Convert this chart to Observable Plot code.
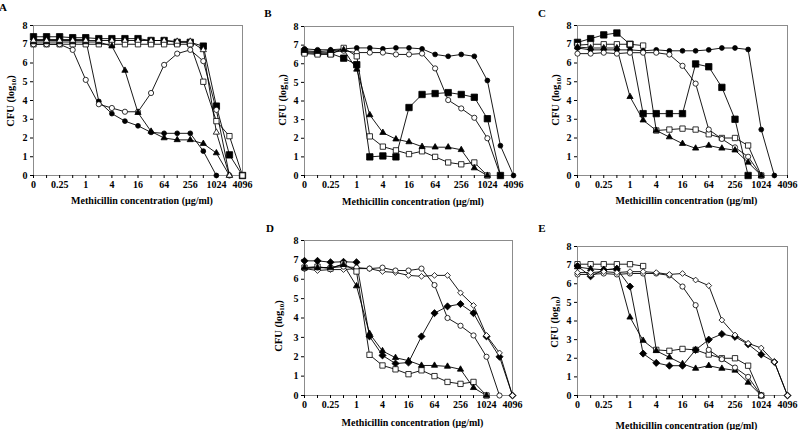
<!DOCTYPE html>
<html>
<head>
<meta charset="utf-8">
<script src="https://cdn.jsdelivr.net/npm/d3@7"></script>
<script src="https://cdn.jsdelivr.net/npm/@observablehq/plot@0.6"></script>
<style>
  body { margin: 0; background: #fff; }
  #chart { position: relative; width: 800px; height: 430px; overflow: hidden; background: #fff; }
  #chart svg { position: absolute; overflow: visible; }
</style>
</head>
<body>
<div id="chart"></div>
<script>
// ---------- data ----------
const concentrations = ["0","0.125","0.25","0.5","1","2","4","8","16","32","64","128","256","512","1024","2048","4096"];
const xTickLabels = ["0","0.25","1","4","16","64","256","1024","4096"];
const yTicks = [0,1,2,3,4,5,6,7,8];
const panelLetters = ["A","B","C","D","E"];
const xTitle = "Methicillin concentration (\u03bcg/ml)";

// Panel A
const aFilledSquare   = [7.4,7.4,7.4,7.35,7.35,7.3,7.3,7.3,7.3,7.2,7.2,7.1,7.1,6.9,3.7,1.1,0];
const aOpenSquare     = [7.0,7.0,7.0,7.0,7.0,7.0,7.0,7.0,7.0,7.0,7.0,7.0,7.0,5.0,2.9,2.1,0];
const aFilledCircle   = [7.25,7.25,7.25,7.25,7.25,3.95,3.3,2.9,2.65,2.3,2.25,2.25,2.25,1.3,0,null,null];
const aOpenCircle     = [7.0,7.0,7.0,6.7,5.1,3.8,3.6,3.4,3.4,4.4,5.9,6.5,6.7,6.1,3.5,0,null];
const aFilledTriangle = [7.12,7.12,7.12,7.12,7.12,7.12,6.9,5.6,3.35,2.35,2.0,1.9,1.9,1.7,1.2,0,null];
const aOpenTriangle   = [7.2,7.2,7.2,7.2,7.2,7.2,7.2,7.2,7.2,7.2,7.2,7.15,7.15,6.7,2.3,0,null];

// Panel B
const bFilledCircle   = [6.8,6.75,6.75,6.8,6.85,6.85,6.8,6.85,6.85,6.8,6.5,6.4,6.5,6.4,5.1,1.6,0];
const bOpenCircle     = [6.6,6.55,6.6,6.7,6.6,6.6,6.6,6.5,6.5,6.55,5.75,4.05,3.6,3.1,2.0,0,null];
const bFilledSquare   = [6.65,6.6,6.55,6.3,5.95,1.0,1.05,1.0,3.65,4.35,4.4,4.45,4.35,4.2,3.05,0,null];
const bOpenSquare     = [6.55,6.5,6.5,6.85,6.4,2.1,1.55,1.35,1.15,1.3,1.0,0.7,0.6,0.7,0,null,null];
const bFilledTriangle = [6.7,6.65,6.7,6.75,5.7,3.25,2.3,1.95,1.8,1.55,1.52,1.52,1.38,0.4,0,null,null];

// Panel C
const cFilledSquare   = [7.1,7.3,7.5,7.6,7.0,3.3,3.3,3.3,3.3,5.95,5.8,4.7,3.0,0,null,null,null];
const cOpenSquare     = [6.95,7.0,7.0,7.0,7.0,6.93,2.4,2.45,2.5,2.45,2.2,2.0,2.0,1.6,0,null,null];
const cFilledCircle   = [6.8,6.7,6.7,6.7,6.7,6.65,6.7,6.65,6.65,6.65,6.7,6.8,6.8,6.72,2.45,0,null];
const cOpenCircle     = [6.5,6.5,6.55,6.5,6.55,6.55,6.55,6.45,5.85,4.9,2.45,1.95,1.5,1.0,0,null,null];
const cFilledTriangle = [6.85,6.8,6.8,6.8,4.2,2.95,2.4,2.05,1.7,1.45,1.6,1.45,1.35,0.7,0,null,null];

// Panel D
const dFilledDiamond  = [6.95,6.95,6.88,6.9,6.88,3.05,2.07,1.65,1.7,3.05,4.25,4.6,4.72,4.25,3.05,2.0,0];
const dOpenDiamond    = [6.55,6.45,6.5,6.5,6.55,6.55,6.4,6.35,6.2,6.15,6.2,6.2,5.3,4.65,3.1,2.2,0];
const dOpenCircle     = [6.55,6.6,6.6,6.65,6.6,6.55,6.6,6.45,6.45,6.55,5.7,4.0,3.6,3.1,2.0,0,null];
const dOpenSquare     = [6.6,6.65,6.55,6.8,6.4,2.1,1.55,1.35,1.1,1.3,1.0,0.7,0.6,0.7,0,null,null];
const dFilledTriangle = [6.6,6.6,6.6,6.75,5.65,3.2,2.3,1.95,1.8,1.55,1.55,1.5,1.35,0.4,0,null,null];

// Panel E
const eOpenSquare     = [7.05,7.05,7.05,7.05,7.05,6.95,2.45,2.4,2.5,2.45,2.2,2.0,2.0,1.6,0,null,null];
const eFilledTriangle = [6.9,6.8,6.75,6.8,4.2,2.95,2.4,2.05,1.7,1.45,1.6,1.45,1.35,0.7,0,null,null];
const eFilledDiamond  = [6.95,6.4,6.75,6.8,5.85,2.25,1.75,1.6,1.6,2.45,3.0,3.3,3.15,2.75,2.2,1.8,0];
const eOpenCircle     = [6.5,6.5,6.55,6.5,6.55,6.55,6.55,6.45,5.85,4.85,2.45,1.95,1.5,1.0,0,null,null];
const eOpenDiamond    = [6.6,6.6,6.65,6.6,6.65,6.65,6.6,6.5,6.55,6.2,5.9,4.05,3.25,2.8,2.55,1.8,0];

// ---------- styles & layout ----------
const markerStyle = {
  filledSquare:   {symbol: "square",   fill: "black", r: 3.6},
  openSquare:     {symbol: "square",   fill: "white", r: 3.0},
  filledCircle:   {symbol: "circle",   fill: "black", r: 2.4},
  openCircle:     {symbol: "circle",   fill: "white", r: 2.6},
  filledTriangle: {symbol: "triangle", fill: "black", r: 2.3},
  openTriangle:   {symbol: "triangle", fill: "white", r: 2.3},
  filledDiamond:  {symbol: "diamond2", fill: "black", r: 3.2},
  openDiamond:    {symbol: "diamond2", fill: "white", r: 2.6}
};

const panels = [
  {letter: panelLetters[0], ox: 0,   oy: 0,   w: 265, l: 33,  r: 242, t: 25,  b: 175,
   titleY: 204, yTitleX: 14,  yTitleY: 101, letterX: 3,   letterY: 11,
   series: [["filledSquare", aFilledSquare], ["openSquare", aOpenSquare], ["filledCircle", aFilledCircle],
            ["openCircle", aOpenCircle], ["filledTriangle", aFilledTriangle], ["openTriangle", aOpenTriangle]]},
  {letter: panelLetters[1], ox: 265, oy: 0,   w: 265, l: 304, r: 513, t: 26,  b: 175,
   titleY: 205, yTitleX: 286, yTitleY: 100, letterX: 268, letterY: 17,
   series: [["filledCircle", bFilledCircle], ["openCircle", bOpenCircle], ["filledSquare", bFilledSquare],
            ["openSquare", bOpenSquare], ["filledTriangle", bFilledTriangle]]},
  {letter: panelLetters[2], ox: 530, oy: 0,   w: 270, l: 577, r: 787, t: 25,  b: 175,
   titleY: 204, yTitleX: 559, yTitleY: 100, letterX: 542, letterY: 17,
   series: [["filledSquare", cFilledSquare], ["openSquare", cOpenSquare], ["filledCircle", cFilledCircle],
            ["openCircle", cOpenCircle], ["filledTriangle", cFilledTriangle]]},
  {letter: panelLetters[3], ox: 265, oy: 215, w: 265, l: 304, r: 512, t: 240, b: 395,
   titleY: 426, yTitleX: 282, yTitleY: 326, letterX: 270, letterY: 232,
   series: [["filledDiamond", dFilledDiamond], ["openDiamond", dOpenDiamond], ["openCircle", dOpenCircle],
            ["openSquare", dOpenSquare], ["filledTriangle", dFilledTriangle]]},
  {letter: panelLetters[4], ox: 530, oy: 215, w: 270, l: 577, r: 787, t: 246, b: 395,
   titleY: 429, yTitleX: 558, yTitleY: 322, letterX: 542, letterY: 232,
   series: [["openSquare", eOpenSquare], ["filledTriangle", eFilledTriangle], ["filledDiamond", eFilledDiamond],
            ["openCircle", eOpenCircle], ["openDiamond", eOpenDiamond]]}
];

const H = 215;
const font = "'Liberation Serif', 'Times New Roman', Times, serif";
const chart = document.getElementById("chart");

for (const p of panels) {
  const rows = [];
  p.series.forEach(([name, values]) => {
    values.forEach((v, i) => { if (v != null) rows.push({series: name, i, conc: concentrations[i], v}); });
  });

  const lineMarks = Plot.line(rows, {x: "i", y: "v", z: "series", stroke: "black", strokeWidth: 0.9});
  const dotMarks = p.series.map(([name]) => {
    const s = markerStyle[name];
    return Plot.dot(rows.filter(d => d.series === name), {
      x: "i", y: "v", symbol: s.symbol, r: s.r, fill: s.fill, stroke: "black", strokeWidth: 0.8
    });
  });

  const svg = Plot.plot({
    width: p.w,
    height: H,
    marginLeft: p.l - p.ox,
    marginRight: p.ox + p.w - p.r,
    marginTop: p.t - p.oy,
    marginBottom: p.oy + H - p.b,
    x: {type: "linear", domain: [0, concentrations.length - 1], axis: null},
    y: {type: "linear", domain: [0, 8], axis: null},
    style: {fontFamily: font, fontWeight: "bold", fontSize: "10px", background: "transparent", color: "black"},
    marks: [
      Plot.frame({stroke: "#8c8c8c", strokeWidth: 1}),
      Plot.axisY({ticks: yTicks, tickSize: 3, tickPadding: 3, label: null, tickFormat: d => String(d)}),
      Plot.axisX({ticks: d3.range(concentrations.length), tickSize: 3, tickPadding: 2, label: null,
                  tickFormat: d => (d % 2 === 0 ? xTickLabels[d / 2] : "")}),
      lineMarks,
      ...dotMarks
    ]
  });
  svg.style.left = p.ox + "px";
  svg.style.top = p.oy + "px";

  const g = d3.select(svg).append("g")
    .attr("font-family", font).attr("font-weight", "bold").attr("fill", "black");

  // panel letter
  g.append("text").attr("x", p.letterX - p.ox).attr("y", p.letterY - p.oy)
    .attr("font-size", 11).text(p.letter);

  // x title
  g.append("text").attr("x", (p.l + p.r) / 2 + 4.5 - p.ox).attr("y", p.titleY - p.oy)
    .attr("text-anchor", "middle").attr("font-size", 10).text(xTitle);

  // y title with subscript
  const yt = g.append("text")
    .attr("transform", `translate(${p.yTitleX - p.ox},${p.yTitleY - p.oy}) rotate(-90)`)
    .attr("text-anchor", "middle").attr("font-size", 10.5);
  yt.append("tspan").text("CFU (log");
  yt.append("tspan").attr("font-size", 7).attr("dy", 2).text("10");
  yt.append("tspan").attr("dy", -2).text(")");

  chart.appendChild(svg);
}
</script>
</body>
</html>
